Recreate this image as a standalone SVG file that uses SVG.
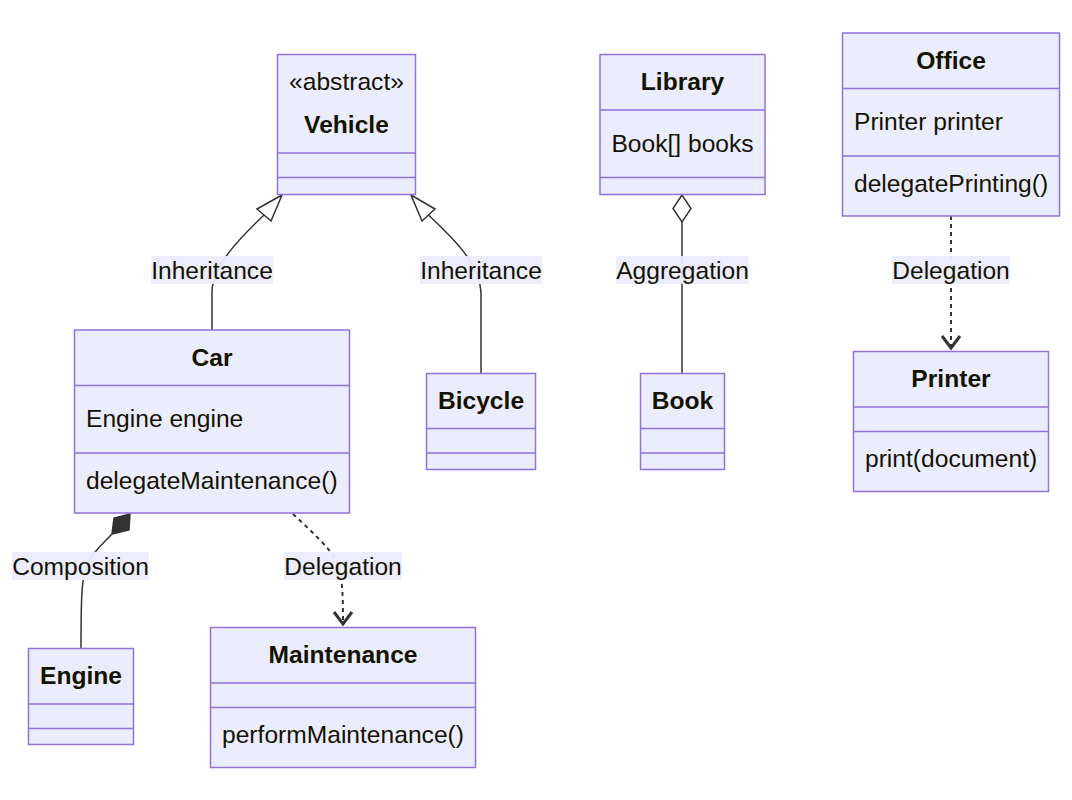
<svg xmlns="http://www.w3.org/2000/svg" width="1072" height="800" viewBox="0 0 1072 800">
<style>
.box{fill:#ECECFF;stroke:#9370DB;stroke-width:1.5}
.div{stroke:#9370DB;stroke-width:1.5}
.t{font-family:"Liberation Sans",Arial,sans-serif;font-size:24.6px;fill:#131300;dominant-baseline:central}
.b{font-weight:bold;text-anchor:middle}
.c{text-anchor:middle}
.edge{fill:none;stroke:#333;stroke-width:1.5}
.dash{stroke-dasharray:4 4;stroke-width:2}
.lbl{fill:#ECECFF;opacity:0.95}
.head{fill:#fff;stroke:#333;stroke-width:1.5}
.fhead{fill:#333;stroke:#333;stroke-width:1.5}
.open{fill:none;stroke:#333;stroke-width:3}
</style>
<rect width="1072" height="800" fill="#fff"/>
<g id="connectors">
  <path class="edge" d="M212,330 L212,292 C212,266 240,238 264,215"/>
  <polygon class="head" points="282,195 257,209 271,221"/>
  <path class="edge" d="M481,373 L481,295 C481,265 455,240 428.5,215"/>
  <polygon class="head" points="411,195 435,209 422,221"/>
  <path class="edge" d="M682,373 L682,222"/>
  <polygon class="head" points="682,195 673,208.5 682,222 691,208.5"/>
  <path class="edge dash" d="M951,216 L951,348"/>
  <path class="open" d="M942,336 L951,348 L960,336"/>
  <path class="edge" d="M112,534 C104,543 92,552 87,565 C82,578 81,590 81,648"/>
  <polygon class="fhead" points="130,514 114,518 112,534 129,530"/>
  <path class="edge dash" d="M293,514 C310,530 330,548 337,562 C343,578 343,600 343,624"/>
  <path class="open" d="M334,612 L343,624 L352,612"/>
  <rect class="lbl" x="151" y="256" width="122" height="28"/>
  <text class="t c" x="212" y="270">Inheritance</text>
  <rect class="lbl" x="420" y="256" width="122" height="28"/>
  <text class="t c" x="481" y="270">Inheritance</text>
  <rect class="lbl" x="616" y="256" width="133" height="28"/>
  <text class="t c" x="682.5" y="270">Aggregation</text>
  <rect class="lbl" x="892" y="256" width="118" height="28"/>
  <text class="t c" x="951" y="270">Delegation</text>
  <rect class="lbl" x="12" y="552" width="137" height="28"/>
  <text class="t c" x="80.5" y="566">Composition</text>
  <rect class="lbl" x="284" y="552" width="118" height="28"/>
  <text class="t c" x="343" y="566">Delegation</text>
</g>
<g id="Vehicle">
  <rect class="box" x="277.5" y="54.5" width="138" height="140"/>
  <line class="div" x1="277.5" y1="153" x2="415.5" y2="153"/>
  <line class="div" x1="277.5" y1="177.5" x2="415.5" y2="177.5"/>
  <text class="t c" x="346.5" y="81">«abstract»</text>
  <text class="t b" x="346.5" y="124">Vehicle</text>
</g>
<g id="Library">
  <rect class="box" x="600" y="54.5" width="165" height="140"/>
  <line class="div" x1="600" y1="110" x2="765" y2="110"/>
  <line class="div" x1="600" y1="177.5" x2="765" y2="177.5"/>
  <text class="t b" x="682.5" y="81">Library</text>
  <text class="t c" x="682.5" y="143">Book[] books</text>
</g>
<g id="Office">
  <rect class="box" x="842.5" y="33" width="217" height="183"/>
  <line class="div" x1="842.5" y1="88.5" x2="1059.5" y2="88.5"/>
  <line class="div" x1="842.5" y1="156" x2="1059.5" y2="156"/>
  <text class="t b" x="951" y="60">Office</text>
  <text class="t" x="854" y="121">Printer printer</text>
  <text class="t" x="854" y="183">delegatePrinting()</text>
</g>
<g id="Car">
  <rect class="box" x="74.5" y="330" width="275" height="183"/>
  <line class="div" x1="74.5" y1="385.5" x2="349.5" y2="385.5"/>
  <line class="div" x1="74.5" y1="453" x2="349.5" y2="453"/>
  <text class="t b" x="212" y="357">Car</text>
  <text class="t" x="86" y="418">Engine engine</text>
  <text class="t" x="86" y="480">delegateMaintenance()</text>
</g>
<g id="Bicycle">
  <rect class="box" x="426.5" y="373.5" width="109" height="96"/>
  <line class="div" x1="426.5" y1="428.5" x2="535.5" y2="428.5"/>
  <line class="div" x1="426.5" y1="453" x2="535.5" y2="453"/>
  <text class="t b" x="481" y="400">Bicycle</text>
</g>
<g id="Book">
  <rect class="box" x="640.5" y="373.5" width="84" height="96"/>
  <line class="div" x1="640.5" y1="428.5" x2="724.5" y2="428.5"/>
  <line class="div" x1="640.5" y1="453" x2="724.5" y2="453"/>
  <text class="t b" x="682.5" y="400">Book</text>
</g>
<g id="Printer">
  <rect class="box" x="853.5" y="351.5" width="195" height="140"/>
  <line class="div" x1="853.5" y1="407" x2="1048.5" y2="407"/>
  <line class="div" x1="853.5" y1="431.5" x2="1048.5" y2="431.5"/>
  <text class="t b" x="951" y="378">Printer</text>
  <text class="t" x="865" y="458">print(document)</text>
</g>
<g id="Engine">
  <rect class="box" x="28.5" y="648.5" width="105" height="96"/>
  <line class="div" x1="28.5" y1="704" x2="133.5" y2="704"/>
  <line class="div" x1="28.5" y1="728.5" x2="133.5" y2="728.5"/>
  <text class="t b" x="81" y="675">Engine</text>
</g>
<g id="Maintenance">
  <rect class="box" x="210.5" y="627.5" width="265" height="140"/>
  <line class="div" x1="210.5" y1="683" x2="475.5" y2="683"/>
  <line class="div" x1="210.5" y1="707.5" x2="475.5" y2="707.5"/>
  <text class="t b" x="343" y="654">Maintenance</text>
  <text class="t" x="222" y="734">performMaintenance()</text>
</g>
</svg>
